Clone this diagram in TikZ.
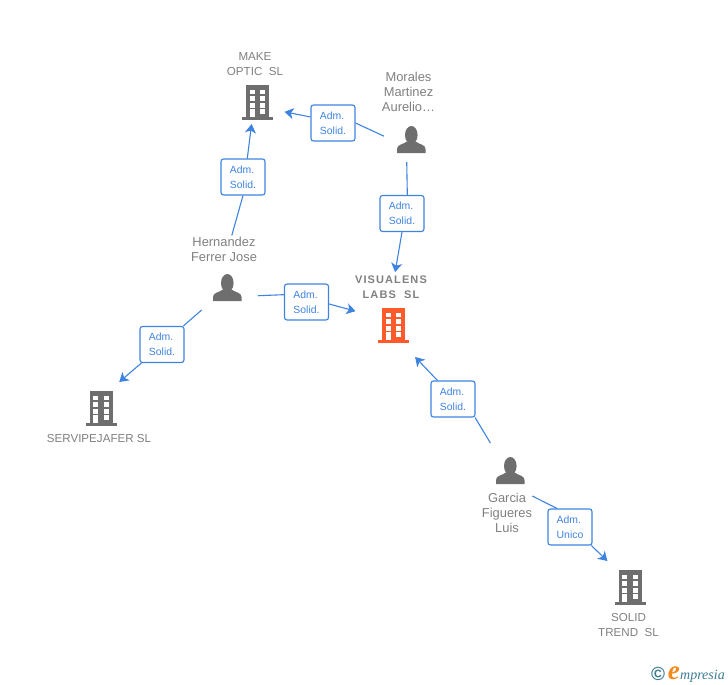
\documentclass[tikz,border=0pt]{standalone}
\usepackage{xcolor}
\usepackage{fontspec}
\setmainfont{Liberation Sans}
\newfontfamily\spacedbold[LetterSpace=10]{Liberation Sans}
\newfontfamily\logofont{Liberation Serif}
\usepackage{tikz}
\usetikzlibrary{arrows.meta}
\definecolor{linkblue}{HTML}{3F83E0}
\definecolor{icongray}{HTML}{6E6E6E}
\definecolor{textgray}{HTML}{808080}
\definecolor{mainorange}{HTML}{FF5A2C}
\definecolor{logoteal}{HTML}{3B7A92}
\definecolor{logoorange}{HTML}{F28A1E}
\tikzset{
  iconbox/.style={minimum width=54pt,minimum height=44pt,inner sep=0pt,outer sep=0pt},
  mainbox/.style={minimum width=76pt,minimum height=64pt,inner sep=0pt,outer sep=0pt},
  firmlabel/.style={align=center,text=textgray,font=\fontsize{11.6}{15}\selectfont,inner sep=1pt},
  personlabel/.style={align=center,text=textgray,font=\fontsize{12.9}{15}\selectfont,inner sep=1pt},
  rolebox/.style={draw=linkblue,fill=white,line width=1.1pt,rounded corners=2.5pt,
    minimum width=44pt,minimum height=36pt,inner sep=0pt,text=linkblue,align=left,
    font=\fontsize{10.4}{15}\selectfont},
  link/.style={draw=linkblue,line width=1.1pt},
  linkto/.style={link,-{Stealth[length=9pt,width=11pt,inset=2.5pt]}},
  pics/buildingicon/.style={code={
    \fill[#1] (-11.5,-17) rectangle (11.5,15);
    \fill[#1] (-15.5,15) rectangle (15.5,17.5);
    \foreach \wx/\wxx in {-8/-3,2.5/7.5}{
      \foreach \wy/\wyy in {-12/-8,-6/-1.5,1/5.5}{
        \fill[white] (\wx,\wy) rectangle (\wxx,\wyy);
      }
    }
    \fill[white] (-8,7) rectangle (-3,15);
    \fill[white] (2.5,7) rectangle (7.5,11.5);
  }},
  pics/personicon/.style={code={
    \fill[icongray] (0.3,-5) ellipse (6.3 and 9);
    \fill[icongray] (-14,13) -- (-14,9) .. controls (-14,4.5) and (-8,4.5) .. (-4,1.5)
      -- (4.5,1.5) .. controls (8.5,4.5) and (14.5,4.5) .. (14.5,9) -- (14.5,13) -- cycle;
  }}
}
\begin{document}
\begin{tikzpicture}[x=1pt,y=-1pt]
    \useasboundingbox (0,0) rectangle (728,685);

    \node[iconbox] (make) at (257.5,102) {};
    \node[iconbox] (morales) at (411,140) {};
    \node[iconbox,minimum width=62pt] (hernandez) at (227,288) {};
    \node[mainbox] (visualens) at (393.5,325) {};
    \node[iconbox,minimum height=52pt] (servipejafer) at (101,408) {};
    \node[iconbox,minimum height=56pt] (garcia) at (510,471) {};
    \node[iconbox,minimum height=52pt] (solid) at (630,587) {};

    \pic at (make) {buildingicon=icongray};
    \pic at (visualens) {buildingicon=mainorange};
    \pic at (servipejafer) {buildingicon=icongray};
    \pic at (solid) {buildingicon=icongray};
    \pic at (morales) {personicon};
    \pic at (hernandez) {personicon};
    \pic at (garcia) {personicon};

    \node[firmlabel] (makelabel) at (255,64.5) {MAKE\\OPTIC\ \ SL};
    \node[personlabel] (moraleslabel) at (408.5,92) {Morales\\Martinez\\Aurelio\dots};
    \node[personlabel] (hernandezlabel) at (224,249) {Hernandez\\Ferrer Jose};
    \node[firmlabel,font=\fontsize{11}{15}\selectfont\spacedbold\bfseries,outer sep=3pt] (visualenslabel) at (391,287.5) {VISUALENS\\LABS\ \ SL};
    \node[firmlabel] (servipejaferlabel) at (99,439) {SERVIPEJAFER SL};
    \node[personlabel] (garcialabel) at (507,513) {Garcia\\Figueres\\Luis};
    \node[firmlabel] (solidlabel) at (628.5,624.5) {SOLID\\TREND\ \ SL};
    \coordinate (garciaout) at (532.3,496);

    \node[rolebox] (roleA) at (333,123) {Adm.\\Solid.};
    \node[rolebox] (roleB) at (243,177) {Adm.\\Solid.};
    \node[rolebox] (roleC) at (402,213.5) {Adm.\\Solid.};
    \node[rolebox] (roleD) at (306.5,302) {Adm.\\Solid.};
    \node[rolebox] (roleE) at (162,344.5) {Adm.\\Solid.};
    \node[rolebox] (roleF) at (453,399) {Adm.\\Solid.};
    \node[rolebox] (roleG) at (570,527) {Adm.\\Unico};

    \draw[link] (morales.172) -- (roleA.east);
    \draw[linkto] (roleA.165) -- (make.-20);
    \draw[link] (hernandezlabel.60) -- (roleB.south);
    \draw[linkto] (roleB.77) -- (make.-105);
    \draw[link] (morales.-101) -- (roleC.74);
    \draw[linkto] (roleC.south) -- (visualenslabel.75);
    \draw[link] (hernandez.-14) -- (roleD.162);
    \draw[linkto] (roleD.-5) -- (visualens.160);
    \draw[link] (hernandez) -- (roleE);
    \draw[linkto] (roleE.-138) -- (servipejafer.55);
    \draw[link] (garcia.125) -- (roleF.-40);
    \draw[linkto] (roleF.130) -- (visualens.-56);
    \draw[link] (garciaout) -- (roleG.125);
    \draw[linkto] (roleG.-41) -- (solid.131);

    \node[inner sep=0pt,text=logoteal,font=\fontsize{19}{19}\selectfont\bfseries] (logomark) at (658,674) {©};
    \node[inner sep=0pt,anchor=base west,text=logoteal,font=\fontsize{14}{14}\selectfont\logofont\itshape] (logotext) at (680,679) {mpresia};
    \node[inner sep=0pt,anchor=base east,text=logoorange,font=\fontsize{27}{27}\selectfont\logofont\bfseries\itshape] (logoe) at (logotext.base west) {e};
\end{tikzpicture}
\end{document}
